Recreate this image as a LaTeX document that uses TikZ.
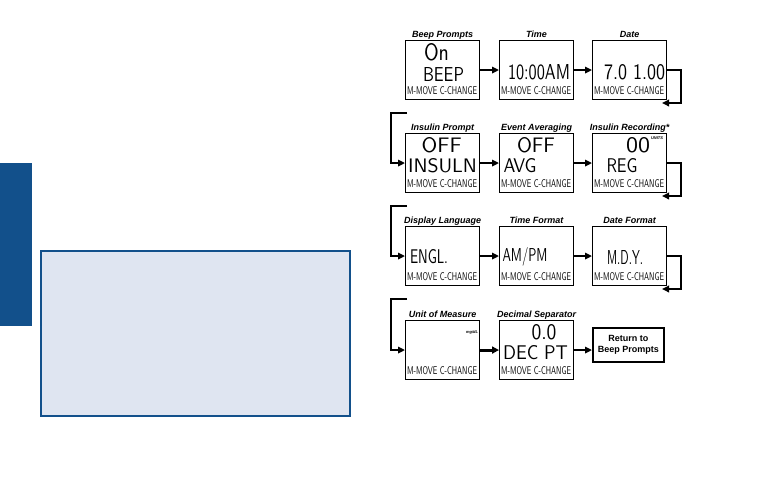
\documentclass[tikz,border=0pt]{standalone}
\usepackage{fontspec}
\setmainfont{Liberation Sans}
\usepackage{graphicx}
\usetikzlibrary{arrows.meta}
\definecolor{barblue}{RGB}{18,80,139}
\definecolor{paleblue}{RGB}{223,229,241}
\newcommand{\lcd}[3]{\resizebox{#1pt}{#2pt}{\sffamily #3}}
\newcommand{\mmove}{\lcd{70}{8}{M-MOVE C-CHANGE}}
\begin{document}
\begin{tikzpicture}[x=1pt,y=-1pt,
  screen/.style={draw, line width=1.1pt, minimum width=74pt, minimum height=59pt, anchor=north west, inner sep=0pt},
  title/.style={font=\fontsize{9}{10}\selectfont\bfseries\itshape, inner sep=0pt, anchor=base},
  seg/.style={inner sep=0pt},
  tiny/.style={inner sep=0pt, font=\fontsize{4}{4}\selectfont\bfseries\itshape},
  arr/.style={line width=1.8pt, -{Triangle[length=7pt,width=6.5pt]}},
  thickarr/.style={line width=3pt, -{Triangle[length=7pt,width=7pt]}}]
\useasboundingbox (0,0) rectangle (757,490);
% left page elements
\fill[barblue] (0,163) rectangle (32,326);
\draw[barblue, line width=1.3pt, fill=paleblue] (41,251) rectangle (350,416);
% screens
\node[screen] (b1) at (405,40) {};
\node[screen] (b2) at (499,40) {};
\node[screen] (b3) at (592,40) {};
\node[screen] (b4) at (405,133) {};
\node[screen] (b5) at (499,133) {};
\node[screen] (b6) at (592,133) {};
\node[screen] (b7) at (405,226) {};
\node[screen] (b8) at (499,226) {};
\node[screen] (b9) at (592,226) {};
\node[screen] (b10) at (405,320) {};
\node[screen] (b11) at (499,320) {};
\node[draw, line width=1.8pt, minimum width=71pt, minimum height=34pt, inner sep=1pt, align=center, anchor=north west, font=\fontsize{9}{11}\selectfont\bfseries] (ret) at (592,327) {Return to\\Beep Prompts};
% titles
\node[title] (l1) at ([yshift=3pt]b1.north) {Beep Prompts};
\node[title] (l2) at ([yshift=3pt]b2.north) {Time};
\node[title] (l3) at ([yshift=3pt]b3.north) {Date};
\node[title] (l4) at ([yshift=3pt]b4.north) {Insulin Prompt};
\node[title] (l5) at ([yshift=3pt]b5.north) {Event Averaging};
\node[title] (l6) at ([yshift=3pt]b6.north) {Insulin Recording*};
\node[title] (l7) at ([yshift=3pt]b7.north) {Display Language};
\node[title] (l8) at ([yshift=3pt]b8.north) {Time Format};
\node[title] (l9) at ([yshift=3pt]b9.north) {Date Format};
\node[title] (l10) at ([yshift=3pt]b10.north) {Unit of Measure};
\node[title] (l11) at ([yshift=3pt]b11.north) {Decimal Separator};
% LCD contents
\node[seg] (s1a) at (436.5,52) {\lcd{25}{17}{On}};
\node[seg] (s1b) at (443.5,74) {\lcd{41}{14}{BEEP}};
\node[seg] (s1c) at (442,91) {\mmove};
\node[seg] (s2a) at (539,72) {\lcd{62}{15}{10:00AM}};
\node[seg] (s2c) at (536,91) {\mmove};
\node[seg] (s3a) at (634.5,72) {\lcd{61}{15}{7.0 1.00}};
\node[seg] (s3c) at (629,91) {\mmove};
\node[seg] (s4a) at (441.7,145) {\lcd{40}{15}{OFF}};
\node[seg] (s4b) at (442.5,166) {\lcd{69}{14}{INSULN}};
\node[seg] (s4c) at (442,184) {\mmove};
\node[seg] (s5a) at (536,145) {\lcd{38}{15}{OFF}};
\node[seg] (s5b) at (520,166) {\lcd{33}{14}{AVG}};
\node[seg] (s5c) at (536,184) {\mmove};
\node[seg] (s6a) at (638,145) {\lcd{24}{15}{00}};
\node[tiny] (s6u) at (657,138) {UNITS};
\node[seg] (s6b) at (622,166) {\lcd{31}{14}{REG}};
\node[seg] (s6c) at (629,184) {\mmove};
\node[seg] (s7a) at (429,257) {\lcd{38}{14}{ENGL.}};
\node[seg] (s7c) at (442,277) {\mmove};
\node[seg] (s8a) at (525,257) {\lcd{45}{14}{AM/PM}};
\node[seg] (s8c) at (536,277) {\mmove};
\node[seg] (s9a) at (625,257) {\lcd{36}{14}{M.D.Y.}};
\node[seg] (s9c) at (629,277) {\mmove};
\node[tiny] (s10u) at (472,332) {mg/dL};
\node[seg] (s10c) at (442,371) {\mmove};
\node[seg] (s11a) at (544,332) {\lcd{25}{15}{0.0}};
\node[seg] (s11b) at (535.5,353) {\lcd{65}{14}{DEC PT}};
\node[seg] (s11c) at (536,371) {\mmove};
% wrap coordinates
\coordinate (w1a) at (681,103); \coordinate (w1b) at (662,103);
\coordinate (w1c) at (407,113); \coordinate (w1d) at (391,113);
\coordinate (w2a) at (681,196); \coordinate (w2b) at (662,196);
\coordinate (w2c) at (407,206); \coordinate (w2d) at (391,206);
\coordinate (w3a) at (681,289); \coordinate (w3b) at (662,289);
\coordinate (w3c) at (407,299); \coordinate (w3d) at (391,299);
% connectors
\draw[arr] (b1.east) -- (b2.west);
\draw[arr] (b2.east) -- (b3.west);
\draw[arr] (b3.east) -| (w1a) -- (w1b);
\draw[arr] (w1c) -- (w1d) |- (b4.west);
\draw[arr] (b4.east) -- (b5.west);
\draw[arr] (b5.east) -- (b6.west);
\draw[arr] (b6.east) -| (w2a) -- (w2b);
\draw[arr] (w2c) -- (w2d) |- (b7.west);
\draw[arr] (b7.east) -- (b8.west);
\draw[arr] (b8.east) -- (b9.west);
\draw[arr] (b9.east) -| (w3a) -- (w3b);
\draw[arr] (w3c) -- (w3d) |- (b10.west);
\draw[thickarr] (b10.east) -- (b11.west);
\draw[arr] (b11.east) -- (b11.east -| ret.west);
\end{tikzpicture}
\end{document}
